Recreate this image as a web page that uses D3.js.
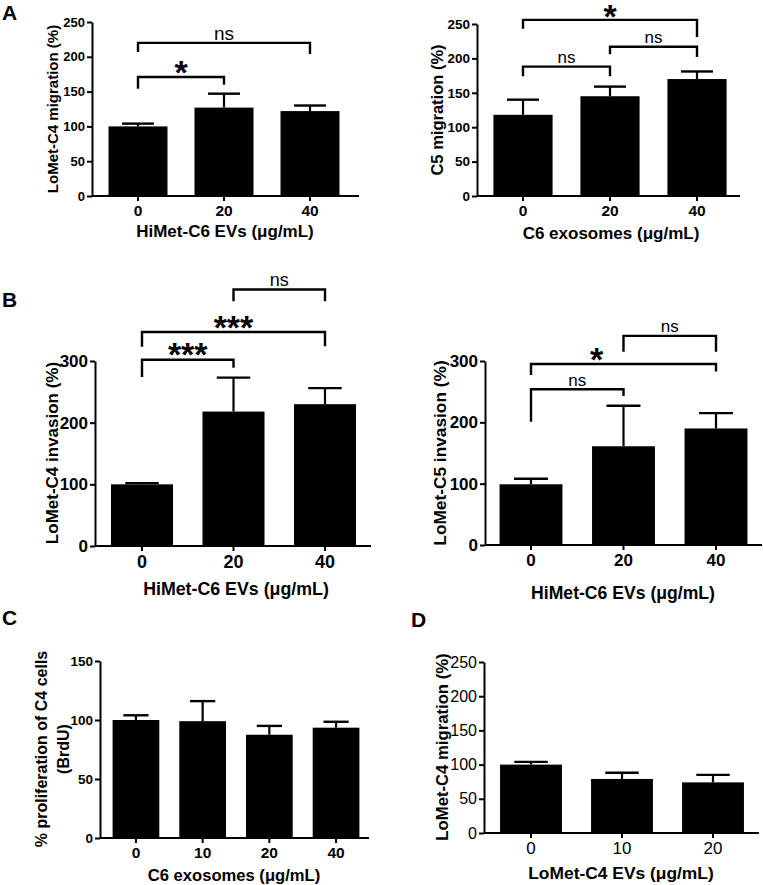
<!DOCTYPE html>
<html><head><meta charset="utf-8">
<script src="https://cdn.jsdelivr.net/npm/d3@7"></script>
<style>body{margin:0;background:#fff}svg{display:block}text{font-family:"Liberation Sans",Arial,sans-serif}</style>
</head><body><svg id="c" width="763" height="885"></svg>
<script>
// ---------------- DATA ----------------
const A1_doses = ["0", "20", "40"];
const A1_mean  = [100, 127, 122];
const A1_sem   = [4, 20, 8];
const A1_yTicks = [0, 50, 100, 150, 200, 250];
const A1_sig = [ // [from, to, lineValue, leftLegValue, rightLegValue, label]
  [0, 1, 171, 154, 160, "*"],
  [0, 2, 220, 207, 204, "ns"]
];
const A2_doses = ["0", "20", "40"];
const A2_mean  = [118, 145, 170];
const A2_sem   = [22, 14, 11];
const A2_yTicks = [0, 50, 100, 150, 200, 250];
const A2_sig = [
  [0, 1, 188, 174, 174, "ns"],
  [1, 2, 217, 206, 202, "ns"],
  [0, 2, 256, 243, 231, "*"]
];
const B1_doses = ["0", "20", "40"];
const B1_mean  = [100, 218, 230];
const B1_sem   = [2, 55, 26];
const B1_yTicks = [0, 100, 200, 300];
const B1_sig = [
  [0, 1, 302, 274, 289, "***"],
  [0, 2, 347, 323, 324, "***"],
  [1, 2, 416, 397, 397, "ns"]
];
const B2_doses = ["0", "20", "40"];
const B2_mean  = [99, 161, 190];
const B2_sem   = [9, 66, 25];
const B2_yTicks = [0, 100, 200, 300];
const B2_sig = [
  [0, 1, 254, 201, 243, "ns"],
  [0, 2, 295, 277, 283, "*"],
  [1, 2, 341, 315, 315, "ns"]
];
const C_doses = ["0", "10", "20", "40"];
const C_mean  = [100, 99, 87.5, 93.5];
const C_sem   = [4, 17, 7.5, 5];
const C_yTicks = [0, 50, 100, 150];
const D_doses = ["0", "10", "20"];
const D_mean  = [100, 79, 74];
const D_sem   = [4, 9, 11];
const D_yTicks = [0, 50, 100, 150, 200, 250];

// ---------------- LAYOUT ----------------
const svg = d3.select("#c");
svg.append("rect").attr("width", 763).attr("height", 885).attr("fill", "#fff");
const FF = '"Liberation Sans", Arial, sans-serif';

function panel(o) {
  const g = svg.append("g");
  const y = d3.scaleLinear().domain([0, o.yMax]).range([o.yBottom, o.yTop]);
  const x = d3.scaleBand().domain(o.doses).range(o.band)
    .paddingInner(o.pad).paddingOuter(o.pad / 2);
  const bw = x.bandwidth();
  const cx = i => x(o.doses[i]) + bw / 2;

  g.selectAll("rect.bar").data(o.mean).join("rect").attr("class", "bar")
    .attr("x", (d, i) => x(o.doses[i])).attr("width", bw)
    .attr("y", d => y(d)).attr("height", d => y(0) - y(d))
    .attr("fill", "#000");
  const eb = g.selectAll("g.eb").data(o.mean).join("g").attr("class", "eb");
  eb.append("line")
    .attr("x1", (d, i) => cx(i)).attr("x2", (d, i) => cx(i))
    .attr("y1", d => y(d)).attr("y2", (d, i) => y(d + o.sem[i]))
    .attr("stroke", "#000").attr("stroke-width", 2.2);
  eb.append("line")
    .attr("x1", (d, i) => cx(i) - bw * 0.27).attr("x2", (d, i) => cx(i) + bw * 0.27)
    .attr("y1", (d, i) => y(d + o.sem[i])).attr("y2", (d, i) => y(d + o.sem[i]))
    .attr("stroke", "#000").attr("stroke-width", 2.4);

  const ya = g.append("g").attr("transform", `translate(${o.yAxisX},0)`)
    .call(d3.axisLeft(y).tickValues(o.yTicks).tickSize(5).tickSizeOuter(0).tickPadding(2));
  ya.select(".domain").attr("stroke-width", 2);
  ya.selectAll(".tick line").attr("stroke-width", 2);
  ya.selectAll("text").attr("font-family", FF).attr("font-size", o.yTickFs)
    .attr("font-weight", o.tickWeight).attr("fill", "#000");

  const xa = g.append("g").attr("transform", `translate(0,${o.yBottom})`)
    .call(d3.axisBottom(x).tickSize(5).tickSizeOuter(0).tickPadding(4));
  xa.select(".domain").attr("d", `M${o.yAxisX},0H${o.xEnd}`).attr("stroke-width", 2);
  xa.selectAll(".tick line").attr("stroke-width", 2);
  xa.selectAll("text").attr("font-family", FF).attr("font-size", o.xTickFs)
    .attr("font-weight", o.tickWeight).attr("fill", "#000");

  g.append("text").attr("x", o.xTitle[0]).attr("y", o.xTitle[1])
    .attr("text-anchor", "middle").attr("dominant-baseline", "central")
    .attr("font-size", o.xTitleFs).attr("font-weight", "bold").text(o.xLabel);
  const lines = [].concat(o.yLabel);
  lines.forEach((t, i) => {
    const xx = o.yTitle[0] + (i - (lines.length - 1) / 2) * o.yLineH;
    g.append("text")
      .attr("transform", `translate(${xx},${o.yTitle[1]}) rotate(-90)`)
      .attr("text-anchor", "middle").attr("dominant-baseline", "central")
      .attr("font-size", o.yTitleFs).attr("font-weight", o.yTitleWeight || "bold")
      .text(t);
  });

  (o.sig || []).forEach(s => {
    const [a, b, v, lv, rv, lab] = s;
    const xa_ = cx(a), xb_ = cx(b);
    g.append("path")
      .attr("d", `M${xa_},${y(lv)}V${y(v)}H${xb_}V${y(rv)}`)
      .attr("fill", "none").attr("stroke", "#000").attr("stroke-width", 2.4);
    const star = lab.indexOf("*") >= 0;
    const mid = (xa_ + xb_) / 2 + (s[6] || 0);
    if (star) {
      g.append("text").attr("x", mid).attr("y", y(v) - (s[7] || 12.5) + 0.56 * o.starFs)
        .attr("text-anchor", "middle").attr("font-size", o.starFs)
        .attr("font-weight", "bold").text(lab);
    } else {
      g.append("text").attr("x", mid).attr("y", y(v) - 9)
        .attr("text-anchor", "middle").attr("dominant-baseline", "central")
        .attr("font-size", o.nsFs).text(lab);
    }
  });
}

[["A", 2, 20], ["B", 2, 307], ["C", 2, 625], ["D", 411, 627]].forEach(([t, x, yy]) => {
  svg.append("text").attr("x", x).attr("y", yy).attr("font-size", 21)
    .attr("font-weight", "bold").text(t);
});

B2_sig[1].push(-27);
A2_sig[2].push(0, 11);

panel({doses: A1_doses, mean: A1_mean, sem: A1_sem, yTicks: A1_yTicks, sig: A1_sig,
  yMax: 250, yBottom: 196, yTop: 22, band: [95, 353], pad: 0.314, yAxisX: 92, xEnd: 359,
  yTickFs: 13, xTickFs: 15.5, tickWeight: "bold", xTitleFs: 17, yTitleFs: 15, yLineH: 0,
  xLabel: "HiMet-C6 EVs (μg/mL)", xTitle: [225, 231], yLabel: "LoMet-C4 migration (%)", yTitle: [52, 109],
  starFs: 34, nsFs: 19});

panel({doses: A2_doses, mean: A2_mean, sem: A2_sem, yTicks: A2_yTicks, sig: A2_sig,
  yMax: 250, yBottom: 196, yTop: 24, band: [479.5, 740.5], pad: 0.32, yAxisX: 477, xEnd: 740,
  yTickFs: 13.5, xTickFs: 15.5, tickWeight: "bold", xTitleFs: 17, yTitleFs: 16.5, yLineH: 0,
  xLabel: "C6 exosomes (μg/mL)", xTitle: [611, 233], yLabel: "C5 migration (%)", yTitle: [437, 110],
  starFs: 34, nsFs: 17});

panel({doses: B1_doses, mean: B1_mean, sem: B1_sem, yTicks: B1_yTicks, sig: B1_sig,
  yMax: 300, yBottom: 546, yTop: 361, band: [96.25, 370.75], pad: 0.322, yAxisX: 95, xEnd: 371,
  yTickFs: 17, xTickFs: 18, tickWeight: "bold", xTitleFs: 17.8, yTitleFs: 17, yLineH: 0,
  xLabel: "HiMet-C6 EVs (μg/mL)", xTitle: [236, 589], yLabel: "LoMet-C4 invasion (%)", yTitle: [52, 453],
  starFs: 34, nsFs: 18});

panel({doses: B2_doses, mean: B2_mean, sem: B2_sem, yTicks: B2_yTicks, sig: B2_sig,
  yMax: 300, yBottom: 545, yTop: 361, band: [484.75, 762.25], pad: 0.32, yAxisX: 485, xEnd: 762,
  yTickFs: 17, xTickFs: 17, tickWeight: "bold", xTitleFs: 17.6, yTitleFs: 17.3, yLineH: 0,
  xLabel: "HiMet-C6 EVs (μg/mL)", xTitle: [623, 593], yLabel: "LoMet-C5 invasion (%)", yTitle: [440, 453],
  starFs: 34, nsFs: 17});

panel({doses: C_doses, mean: C_mean, sem: C_sem, yTicks: C_yTicks,
  yMax: 150, yBottom: 838, yTop: 661, band: [102.6, 369.4], pad: 0.30, yAxisX: 100, xEnd: 369,
  yTickFs: 13.5, xTickFs: 15.5, tickWeight: "bold", xTitleFs: 16.6, yTitleFs: 16, yLineH: 21.6,
  xLabel: "C6 exosomes (μg/mL)", xTitle: [234, 875], yLabel: ["% proliferation of C4 cells", "(BrdU)"], yTitle: [52.5, 749]});

panel({doses: D_doses, mean: D_mean, sem: D_sem, yTicks: D_yTicks,
  yMax: 250, yBottom: 833, yTop: 662, band: [485.5, 758.5], pad: 0.32, yAxisX: 484, xEnd: 759,
  yTickFs: 16, xTickFs: 17, tickWeight: "normal", xTitleFs: 17.4, yTitleFs: 16.7, yLineH: 0,
  xLabel: "LoMet-C4 EVs (μg/mL)", xTitle: [621, 873], yLabel: "LoMet-C4 migration (%)", yTitle: [442, 747]});
</script></body></html>
